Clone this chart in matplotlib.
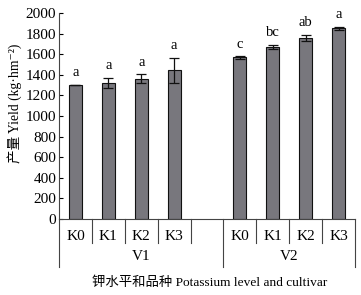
import matplotlib
matplotlib.use("Agg")
import matplotlib.pyplot as plt
import matplotlib.transforms as mtransforms

plt.rcParams['font.family'] = ['Liberation Serif', 'Noto Sans CJK SC', 'DejaVu Sans']

cultivars = ["V1", "V2"]
levels = ["K0", "K1", "K2", "K3"]
yield_v1 = [1300, 1320, 1362, 1443]
err_v1 = [3, 50, 42, 120]
yield_v2 = [1568, 1672, 1756, 1850]
err_v2 = [10, 18, 32, 18]
letters_v1 = ["a", "a", "a", "a"]
letters_v2 = ["c", "bc", "ab", "a"]
yticks = [0, 200, 400, 600, 800, 1000, 1200, 1400, 1600, 1800, 2000]

W, H = 361, 295
fig = plt.figure(figsize=(W / 100, H / 100), dpi=100)
ax = fig.add_axes([59 / W, 1 - 219 / H, (355 - 59) / W, (219 - 13) / H])

pos_v1 = [0, 1, 2, 3]
pos_v2 = [5, 6, 7, 8]
bar_kw = dict(width=0.4, color="#78777d", edgecolor="#111111", linewidth=0.8, zorder=2)
err_kw = dict(ecolor="#111111", elinewidth=0.9, capsize=3.5, capthick=0.9)
ax.bar(pos_v1, yield_v1, yerr=err_v1, error_kw=err_kw, **bar_kw)
ax.bar(pos_v2, yield_v2, yerr=err_v2, error_kw=err_kw, **bar_kw)

for xs, ys, es, ls in [(pos_v1, yield_v1, err_v1, letters_v1), (pos_v2, yield_v2, err_v2, letters_v2)]:
    for x, y, e, l in zip(xs, ys, es, ls):
        ax.annotate(l, (x, y + e), xytext=(0, 4), textcoords="offset points",
                    ha="center", va="bottom", fontsize=10.5)

ax.set_xlim(-0.5, 8.5)
ax.set_ylim(0, 2000)
ax.set_yticks(yticks)
ax.tick_params(axis="y", direction="in", length=3, width=0.8, labelsize=11, pad=2)
ax.set_xticks(pos_v1 + pos_v2)
ax.set_xticklabels(levels + levels, fontsize=11)
ax.tick_params(axis="x", length=0, pad=8)
for s in ["top", "right"]:
    ax.spines[s].set_visible(False)
ax.spines["left"].set_linewidth(0.8)
ax.spines["bottom"].set_linewidth(0.8)
ax.spines["bottom"].set_color("#444444")
ax.spines["left"].set_color("#444444")

trans = mtransforms.blended_transform_factory(ax.transData, ax.transAxes)
short = -24 / 206
long_ = -48 / 206
for b in [0.5, 1.5, 2.5, 3.5, 5.5, 6.5, 7.5]:
    ax.plot([b, b], [0, short], transform=trans, color="#444444", lw=0.8, clip_on=False)
for b in [-0.5, 4.5, 8.5]:
    ax.plot([b, b], [0, long_], transform=trans, color="#444444", lw=0.8, clip_on=False)

ax.text(2.0, -38 / 206, cultivars[0], transform=trans, ha="center", va="center", fontsize=11)
ax.text(6.5, -38 / 206, cultivars[1], transform=trans, ha="center", va="center", fontsize=11)

fig.text(210 / W, 1 - 283 / H, "钾水平和品种 Potassium level and cultivar",
         ha="center", va="center", fontsize=9.6)
fig.text(15 / W, 1 - 103 / H, "产量 Yield (kg·hm⁻²)", rotation=90,
         ha="center", va="center", fontsize=9.8)

fig.savefig("out.png", dpi=100)
